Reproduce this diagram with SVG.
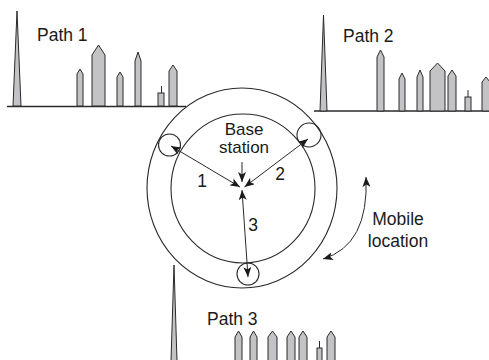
<svg xmlns="http://www.w3.org/2000/svg" width="489" height="360" viewBox="0 0 489 360">
<defs>
<style>
.bar{fill:#c3c3c6;stroke:#2a2a2a;stroke-width:1;stroke-linejoin:miter}
.base{stroke:#2a2a2a;stroke-width:1.3;fill:none}
.ln{stroke:#2a2a2a;stroke-width:1;fill:none}
.c{stroke:#2a2a2a;stroke-width:1.1;fill:none}
text{font-family:"Liberation Sans",Arial,sans-serif;font-size:17.5px;fill:#1a1a1a}
.bs{font-size:17px}
</style>
<marker id="ah" viewBox="0 0 10 8" refX="10" refY="4" markerWidth="10" markerHeight="8" markerUnits="userSpaceOnUse" orient="auto-start-reverse">
<path d="M0,0 L10,4 L0,8 L2.5,4 z" fill="#1a1a1a"/>
</marker>
</defs>
<rect width="489" height="360" fill="#fff"/>

<g id="path1">
<line class="base" x1="7" y1="106.5" x2="186" y2="106.5"/>
<polygon class="bar" points="13,106 17,11 21,106"/>
<polygon class="bar" points="77,106 77,74 80,69 83,74 83,106"/>
<polygon class="bar" points="92,106 92,55 98.5,45 105,55 105,106"/>
<polygon class="bar" points="117,106 117,77 120,72 123,77 123,106"/>
<polygon class="bar" points="135,106 135,61 138,52 141,61 141,106"/>
<rect class="bar" x="158" y="93" width="6" height="13"/>
<line class="ln" x1="161.5" y1="93" x2="161.5" y2="86"/>
<polygon class="bar" points="169,106 169,71 173,65 177,71 177,106"/>
<text x="37" y="41">Path 1</text>
</g>

<g id="path2">
<line class="base" x1="314" y1="111" x2="489" y2="111"/>
<polygon class="bar" points="320,111 323.5,15 327,111"/>
<polygon class="bar" points="377,111 377,57 380.5,50 384,57 384,111"/>
<polygon class="bar" points="399,111 399,79 402,73 405,79 405,111"/>
<polygon class="bar" points="417,111 417,77 420,70 423,77 423,111"/>
<polygon class="bar" points="430,111 430,71 437.5,63 445,71 445,111"/>
<polygon class="bar" points="448,111 448,76 452,70 456,76 456,111"/>
<rect class="bar" x="465" y="97" width="6" height="14"/>
<line class="ln" x1="468" y1="97" x2="468" y2="90"/>
<polygon class="bar" points="482,111 482,82 486,77 490,82 490,111"/>
<text x="343" y="42">Path 2</text>
</g>

<g id="path3">
<polygon class="bar" points="171,361 174,265 177,361"/>
<polygon class="bar" points="235,361 235,337 238.5,331 242,337 242,361"/>
<polygon class="bar" points="250,361 250,337 253.5,331 257,337 257,361"/>
<polygon class="bar" points="268,361 268,337 272.5,331 277,337 277,361"/>
<polygon class="bar" points="287,361 287,337 291,331 295,337 295,361"/>
<polygon class="bar" points="299,361 299,337 303,331 307,337 307,361"/>
<rect class="bar" x="317" y="348" width="5" height="13"/>
<line class="ln" x1="319.5" y1="348" x2="319.5" y2="341"/>
<polygon class="bar" points="327,361 327,337 331,331 335,337 335,361"/>
<text x="207" y="325">Path 3</text>
</g>

<g id="cell">
<ellipse class="c" cx="242" cy="188" rx="95" ry="100"/>
<ellipse class="c" cx="243" cy="188.5" rx="72" ry="74.5"/>
</g>

<g id="mobile1"><circle class="c" cx="169.5" cy="145" r="11"/></g>
<g id="mobile2"><circle class="c" cx="309" cy="135" r="12"/></g>
<g id="mobile3"><circle class="c" cx="248" cy="274" r="11"/></g>

<g id="base-station">
<text class="bs" x="244" y="134.5" text-anchor="middle">Base</text>
<text class="bs" x="244" y="153" text-anchor="middle">station</text>
</g>

<g id="mobile-location">
<text x="398" y="225" text-anchor="middle">Mobile</text>
<text x="398" y="247" text-anchor="middle">location</text>
</g>

<g id="connectors">
<line class="ln" x1="171" y1="146" x2="240" y2="187" marker-start="url(#ah)" marker-end="url(#ah)"/>
<line class="ln" x1="308" y1="139" x2="244.5" y2="187" marker-start="url(#ah)" marker-end="url(#ah)"/>
<line class="ln" x1="242" y1="190" x2="248" y2="277" marker-start="url(#ah)" marker-end="url(#ah)"/>
<line class="ln" x1="242" y1="162" x2="242" y2="182" marker-end="url(#ah)"/>
<path class="ln" d="M366,177 Q369,245 323,259" marker-start="url(#ah)" marker-end="url(#ah)"/>
<text x="202" y="187" text-anchor="middle">1</text>
<text x="280" y="180" text-anchor="middle">2</text>
<text x="253" y="231" text-anchor="middle">3</text>
</g>
</svg>
